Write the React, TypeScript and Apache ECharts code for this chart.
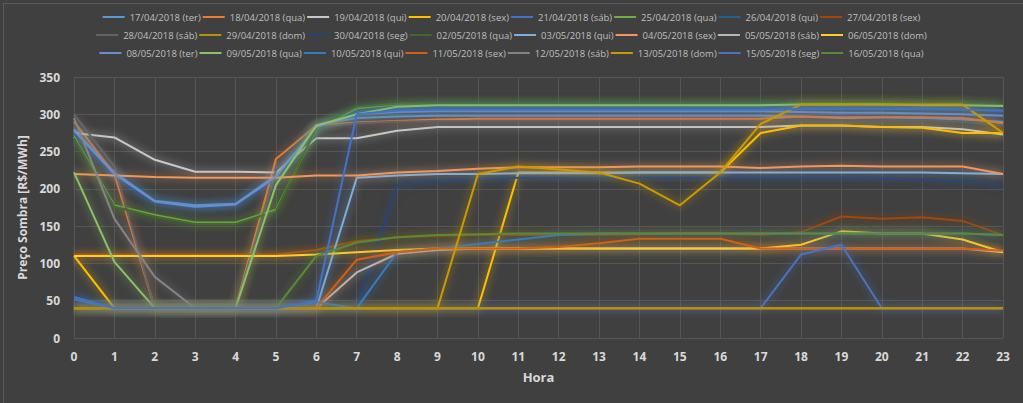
import React, { useEffect, useRef } from "react";
import * as echarts from "echarts";

const hours = ["0","1","2","3","4","5","6","7","8","9","10","11","12","13","14","15","16","17","18","19","20","21","22","23"];

const seriesNames = [
  "17/04/2018 (ter)", "18/04/2018 (qua)", "19/04/2018 (qui)", "20/04/2018 (sex)", "21/04/2018 (sáb)", "25/04/2018 (qua)", "26/04/2018 (qui)", "27/04/2018 (sex)",
  "28/04/2018 (sáb)", "29/04/2018 (dom)", "30/04/2018 (seg)", "02/05/2018 (qua)", "03/05/2018 (qui)", "04/05/2018 (sex)", "05/05/2018 (sáb)", "06/05/2018 (dom)",
  "08/05/2018 (ter)", "09/05/2018 (qua)", "10/05/2018 (qui)", "11/05/2018 (sex)", "12/05/2018 (sáb)", "13/05/2018 (dom)", "15/05/2018 (seg)", "16/05/2018 (qua)",
];

const seriesColors = [
  "#5b9bd5", "#ed7d31", "#c8c8c8", "#ffc000", "#4472c4", "#70ad47", "#255e91", "#9e480e",
  "#636363", "#b8900a", "#264478", "#43682b", "#7cafdd", "#f1975a", "#b7b7b7", "#ffcd33",
  "#698ed0", "#8cc168", "#327dc2", "#d26012", "#848484", "#cc9a00", "#4a73c0", "#5a8a39",
];

const d17_04 = [280, 222, 184, 178, 180, 218, 285, 295, 297, 298, 298, 298, 298, 298, 298, 298, 298, 298, 297, 296, 296, 295, 293, 290];
const d18_04 = [290, 220, 40, 40, 40, 240, 285, 289, 291, 293, 294, 294, 294, 294, 294, 294, 294, 294, 297, 295, 296, 296, 295, 288];
const d19_04 = [275, 269, 239, 223, 223, 222, 268, 268, 278, 283, 283, 283, 283, 283, 283, 283, 283, 283, 285, 285, 283, 283, 280, 273];
const d20_04 = [110, 40, 40, 40, 40, 40, 40, 40, 40, 40, 40, 222, 222, 222, 222, 222, 222, 275, 285, 285, 283, 282, 275, 275];
const d21_04 = [55, 40, 40, 40, 40, 40, 50, 300, 305, 306, 306, 306, 306, 306, 306, 306, 306, 306, 307, 307, 307, 307, 306, 305];
const d25_04 = [270, 178, 165, 155, 155, 172, 280, 308, 313, 313, 313, 313, 313, 313, 313, 313, 313, 313, 314, 314, 314, 313, 313, 312];
const d26_04 = [275, 218, 182, 175, 178, 215, 282, 303, 308, 310, 310, 310, 310, 310, 310, 310, 310, 310, 310, 310, 310, 309, 307, 303];
const d27_04 = [112, 112, 112, 112, 112, 112, 118, 130, 135, 137, 138, 138, 138, 138, 139, 140, 140, 138, 142, 163, 160, 162, 157, 138];
const d28_04 = [300, 230, 40, 40, 40, 225, 282, 288, 290, 291, 291, 291, 291, 291, 291, 291, 291, 291, 292, 292, 292, 292, 290, 285];
const d29_04 = [40, 40, 40, 40, 40, 40, 40, 40, 40, 40, 40, 40, 40, 40, 40, 40, 40, 40, 40, 40, 40, 40, 40, 40];
const d30_04 = [40, 40, 40, 40, 40, 40, 40, 40, 205, 210, 213, 215, 215, 215, 215, 215, 215, 215, 215, 215, 214, 212, 210, 205];
const d02_05 = [268, 176, 163, 153, 153, 170, 282, 310, 314, 314, 314, 314, 314, 314, 314, 314, 314, 314, 315, 315, 315, 314, 314, 312];
const d03_05 = [40, 40, 40, 40, 40, 40, 40, 215, 218, 220, 220, 221, 221, 221, 222, 222, 222, 222, 222, 222, 222, 222, 221, 220];
const d04_05 = [220, 218, 216, 215, 215, 215, 218, 218, 222, 224, 227, 229, 229, 229, 230, 230, 230, 228, 230, 231, 230, 230, 230, 220];
const d05_05 = [40, 40, 40, 40, 40, 40, 40, 88, 113, 118, 120, 120, 120, 120, 120, 120, 120, 120, 120, 120, 120, 120, 120, 115];
const d06_05 = [110, 110, 110, 110, 110, 110, 112, 115, 118, 120, 120, 120, 120, 120, 120, 120, 120, 120, 125, 143, 140, 140, 132, 115];
const d08_05 = [278, 220, 183, 176, 179, 216, 283, 300, 303, 304, 304, 304, 304, 304, 304, 304, 304, 304, 303, 302, 302, 301, 300, 298];
const d09_05 = [222, 102, 40, 40, 40, 205, 285, 300, 310, 312, 312, 312, 312, 312, 312, 312, 312, 312, 313, 313, 313, 312, 312, 311];
const d10_05 = [52, 40, 40, 40, 40, 40, 48, 40, 115, 120, 126, 132, 138, 140, 140, 140, 140, 140, 140, 140, 140, 140, 140, 138];
const d11_05 = [40, 40, 40, 40, 40, 40, 40, 105, 115, 120, 120, 120, 122, 127, 133, 133, 133, 120, 120, 120, 120, 120, 120, 117];
const d12_05 = [295, 160, 82, 40, 40, 40, 40, 40, 40, 40, 40, 40, 40, 40, 40, 40, 40, 40, 40, 40, 40, 40, 40, 40];
const d13_05 = [40, 40, 40, 40, 40, 40, 40, 40, 40, 40, 220, 230, 226, 222, 207, 178, 222, 287, 313, 313, 313, 313, 313, 275];
const d15_05 = [40, 40, 40, 40, 40, 40, 40, 40, 40, 40, 40, 40, 40, 40, 40, 40, 40, 40, 112, 125, 40, 40, 40, 40];
const d16_05 = [40, 40, 40, 40, 40, 40, 110, 128, 135, 138, 139, 140, 140, 140, 140, 140, 140, 140, 140, 140, 140, 140, 140, 138];

const seriesData = [
  d17_04, d18_04, d19_04, d20_04, d21_04, d25_04, d26_04, d27_04,
  d28_04, d29_04, d30_04, d02_05, d03_05, d04_05, d05_05, d06_05,
  d08_05, d09_05, d10_05, d11_05, d12_05, d13_05, d15_05, d16_05,
];

// drawing order (indices into the lists above): the flat gold 40 line and the 21/04 blue are drawn last
const drawOrder = [0, 1, 2, 3, 5, 6, 7, 8, 10, 11, 12, 13, 14, 15, 16, 17, 18, 19, 20, 22, 23, 21, 9, 4];

const yTicks = { min: 0, max: 350, interval: 50 };

function hexA(hex: string, a: number) {
  const r = parseInt(hex.slice(1, 3), 16);
  const g = parseInt(hex.slice(3, 5), 16);
  const b = parseInt(hex.slice(5, 7), 16);
  return `rgba(${r},${g},${b},${a})`;
}

function isFlat(arr: number[]) {
  return arr.every((v) => v === arr[0]);
}

export default function App() {
  const ref = useRef<HTMLDivElement>(null);
  useEffect(() => {
    if (!ref.current) return;
    const chart = echarts.init(ref.current, undefined, { renderer: "svg" });
    const font = "'Open Sans', 'Noto Sans', sans-serif";
    const legendRow = (i: number, top: number) => ({
      data: seriesNames.slice(i * 8, i * 8 + 8),
      top,
      left: "center",
      itemWidth: 22,
      itemHeight: 2,
      itemGap: 2,
      icon: "rect",
      textStyle: { color: "#bfbfbf", fontSize: 9.5, fontFamily: font },
    });
    chart.setOption({
      animation: false,
      backgroundColor: "#404040",
      graphic: [
        {
          type: "rect",
          left: 1,
          top: 1,
          shape: { width: 1020, height: 400 },
          style: { fill: "none", stroke: "#5a5a5a", lineWidth: 1 },
          silent: true,
        },
      ],
      legend: [legendRow(0, 7), legendRow(1, 25), legendRow(2, 43)],
      grid: { left: 74, right: 20, top: 77, bottom: 65 },
      xAxis: {
        type: "category",
        data: hours,
        boundaryGap: false,
        name: "Hora",
        nameLocation: "middle",
        nameGap: 32,
        nameTextStyle: { color: "#d9d9d9", fontSize: 13, fontWeight: "bold", fontFamily: font },
        axisLine: { show: false },
        axisTick: { show: false },
        axisLabel: { color: "#d9d9d9", fontSize: 12, fontWeight: "bold", fontFamily: font, margin: 12 },
        splitLine: { show: true, lineStyle: { color: "#555555", width: 1 } },
      },
      yAxis: {
        type: "value",
        ...yTicks,
        name: "Preço Sombra [R$/MWh]",
        nameLocation: "middle",
        nameGap: 43,
        nameTextStyle: { color: "#d9d9d9", fontSize: 12, fontWeight: "bold", fontFamily: font },
        axisLine: { show: false },
        axisTick: { show: false },
        axisLabel: { color: "#d9d9d9", fontSize: 12, fontWeight: "bold", fontFamily: font, margin: 14 },
        splitLine: { show: true, lineStyle: { color: "#555555", width: 1 } },
      },
      series: drawOrder.map((i) => {
        const flat = isFlat(seriesData[i]);
        return {
          name: seriesNames[i],
          type: "line",
          data: seriesData[i],
          showSymbol: false,
          symbol: "none",
          color: seriesColors[i],
          lineStyle: flat
            ? { width: 2.5, color: seriesColors[i] }
            : {
                width: 2,
                color: seriesColors[i],
                shadowBlur: 9,
                shadowColor: hexA(seriesColors[i], 0.85),
              },
          itemStyle: { color: seriesColors[i] },
        };
      }),
    });
    return () => chart.dispose();
  }, []);
  return <div ref={ref} style={{ position: "fixed", left: 0, top: 0, width: 1023, height: 403 }} />;
}
